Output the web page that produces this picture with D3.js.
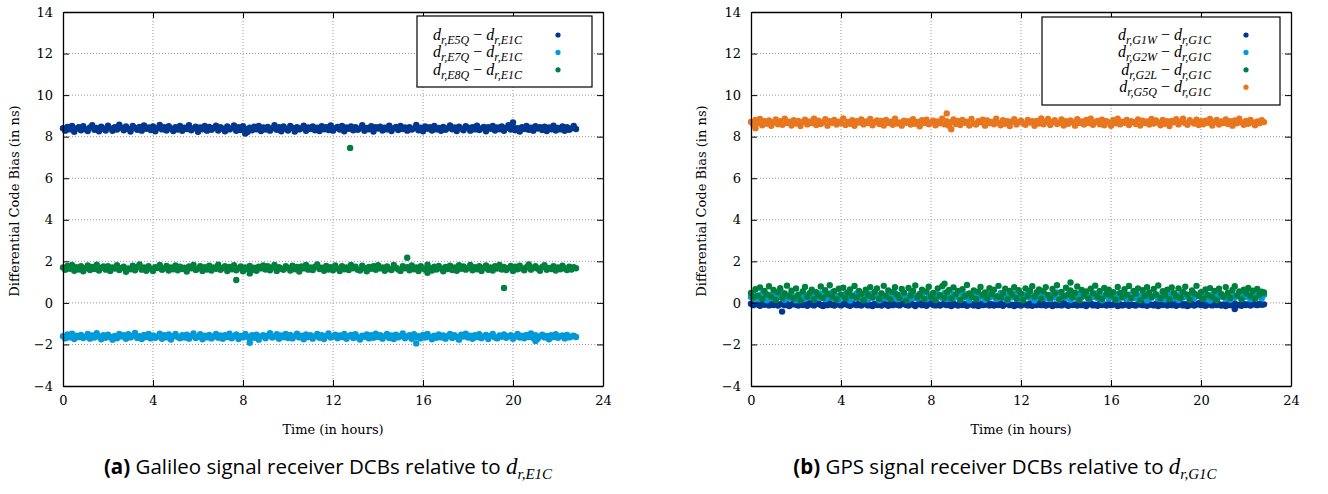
<!DOCTYPE html>
<html>
<head>
<meta charset="utf-8">
<script src="https://cdn.jsdelivr.net/npm/d3@7/dist/d3.min.js"></script>
<style>
  body { margin: 0; background: #fff; }
  svg text { fill: #000; }
</style>
</head>
<body>
<svg id="chart" width="1328" height="494"></svg>
<script>
// sampling grid for the dense series (hours)
const dt = 0.1;

// y ticks / x ticks
const xTicks = [0, 4, 8, 12, 16, 20, 24];
const yTicks = [-4, -2, 0, 2, 4, 6, 8, 10, 12, 14];

// ---- Galileo (panel a) ----
const e5q = [
8.41,8.29,8.47,8.35,8.52,8.24,8.39,8.45,8.31,8.50,
8.36,8.27,8.44,8.55,8.33,8.42,8.26,8.48,8.38,8.30,
8.53,8.40,8.28,8.46,8.34,8.57,8.43,8.31,8.49,8.37,
8.25,8.51,8.42,8.33,8.47,8.29,8.54,8.38,8.44,8.32,
8.49,8.26,8.41,8.56,8.35,8.45,8.30,8.50,8.39,8.27,
8.46,8.34,8.52,8.28,8.43,8.37,8.55,8.31,8.40,8.48,
8.24,8.44,8.36,8.51,8.29,8.47,8.33,8.42,8.53,8.30,
8.45,8.38,8.26,8.49,8.35,8.41,8.54,8.28,8.46,8.32,
8.50,8.37,8.22,8.43,8.31,8.48,8.36,8.52,8.27,8.44,
8.34,8.47,8.29,8.40,8.55,8.33,8.45,8.26,8.49,8.38,
8.30,8.51,8.42,8.25,8.46,8.35,8.41,8.53,8.28,8.44,
8.37,8.49,8.31,8.43,8.27,8.50,8.36,8.45,8.32,8.54,
8.29,8.41,8.47,8.34,8.52,8.26,8.44,8.38,8.49,8.31,
8.46,8.33,8.40,8.55,8.28,8.42,8.36,8.50,8.25,8.45,
8.39,8.48,8.30,8.43,8.35,8.53,8.27,8.41,8.47,8.32,
8.51,8.37,8.44,8.29,8.46,8.34,8.40,8.56,8.31,8.43,
8.26,8.49,8.38,8.45,8.30,8.52,8.35,8.42,8.28,8.47,
8.33,8.41,8.54,8.36,8.44,8.27,8.48,8.39,8.31,8.50,
8.43,8.29,8.46,8.35,8.53,8.32,8.40,8.47,8.26,8.45,
8.38,8.51,8.30,8.44,8.36,8.49,8.28,8.42,8.55,8.34,
8.47,8.31,8.41,8.25,8.46,8.37,8.52,8.33,8.43,8.29,
8.50,8.39,8.45,8.32,8.48,8.27,8.44,8.36,8.53,8.30,
8.42,8.35,8.49,8.28,8.46,8.33,8.40,8.51,8.37];

const e7q = [
-1.60,-1.71,-1.52,-1.66,-1.48,-1.74,-1.58,-1.65,-1.54,-1.69,
-1.63,-1.50,-1.72,-1.57,-1.67,-1.46,-1.61,-1.75,-1.55,-1.68,
-1.53,-1.64,-1.77,-1.59,-1.70,-1.49,-1.62,-1.56,-1.73,-1.51,
-1.66,-1.58,-1.45,-1.69,-1.60,-1.74,-1.54,-1.65,-1.50,-1.71,
-1.57,-1.68,-1.62,-1.48,-1.73,-1.55,-1.66,-1.52,-1.76,-1.61,
-1.49,-1.64,-1.70,-1.56,-1.67,-1.53,-1.72,-1.59,-1.47,-1.69,
-1.63,-1.51,-1.75,-1.58,-1.66,-1.54,-1.71,-1.62,-1.50,-1.68,
-1.57,-1.73,-1.55,-1.65,-1.48,-1.70,-1.60,-1.52,-1.74,-1.59,
-1.66,-1.49,-1.63,-1.72,-1.56,-1.68,-1.53,-1.77,-1.61,-1.55,
-1.70,-1.58,-1.46,-1.67,-1.62,-1.51,-1.73,-1.57,-1.65,-1.50,
-1.69,-1.54,-1.71,-1.60,-1.48,-1.66,-1.58,-1.75,-1.52,-1.64,
-1.56,-1.72,-1.61,-1.50,-1.68,-1.55,-1.74,-1.59,-1.47,-1.67,
-1.62,-1.53,-1.70,-1.57,-1.65,-1.49,-1.73,-1.60,-1.54,-1.69,
-1.51,-1.66,-1.76,-1.58,-1.63,-1.52,-1.71,-1.56,-1.68,-1.48,
-1.64,-1.55,-1.72,-1.61,-1.50,-1.69,-1.57,-1.74,-1.53,-1.66,
-1.59,-1.47,-1.70,-1.62,-1.56,-1.73,-1.51,-1.65,-1.60,-1.71,
-1.54,-1.67,-1.49,-1.63,-1.75,-1.58,-1.68,-1.52,-1.66,-1.57,
-1.72,-1.60,-1.50,-1.69,-1.55,-1.64,-1.77,-1.53,-1.62,-1.48,
-1.67,-1.58,-1.73,-1.56,-1.65,-1.51,-1.70,-1.61,-1.54,-1.74,
-1.59,-1.49,-1.66,-1.71,-1.57,-1.63,-1.52,-1.68,-1.60,-1.55,
-1.73,-1.62,-1.50,-1.67,-1.58,-1.70,-1.54,-1.64,-1.47,-1.69,
-1.56,-1.72,-1.61,-1.53,-1.66,-1.59,-1.75,-1.55,-1.65,-1.51,
-1.68,-1.60,-1.57,-1.71,-1.54,-1.66,-1.62,-1.58,-1.64];

const e8q = [
1.70,1.59,1.78,1.64,1.82,1.55,1.72,1.61,1.76,1.52,
1.67,1.80,1.58,1.73,1.63,1.84,1.56,1.69,1.75,1.60,
1.77,1.54,1.71,1.65,1.81,1.58,1.68,1.74,1.50,1.66,
1.62,1.79,1.57,1.73,1.85,1.60,1.70,1.55,1.76,1.64,
1.53,1.72,1.68,1.83,1.59,1.66,1.78,1.56,1.71,1.62,
1.80,1.57,1.74,1.63,1.69,1.51,1.75,1.67,1.82,1.58,
1.65,1.77,1.54,1.72,1.61,1.79,1.56,1.70,1.64,1.84,
1.59,1.68,1.76,1.53,1.73,1.62,1.81,1.57,1.67,1.75,
1.52,1.71,1.63,1.78,1.58,1.69,1.55,1.74,1.66,1.80,
1.61,1.76,1.57,1.70,1.83,1.54,1.72,1.64,1.59,1.77,
1.68,1.56,1.79,1.62,1.73,1.51,1.75,1.66,1.82,1.60,
1.70,1.58,1.74,1.85,1.63,1.69,1.55,1.78,1.61,1.72,
1.57,1.80,1.65,1.53,1.76,1.62,1.71,1.58,1.83,1.67,
1.74,1.60,1.56,1.79,1.68,1.52,1.73,1.64,1.77,1.59,
1.81,1.66,1.71,1.55,1.75,1.63,1.58,1.82,1.69,1.61,
1.54,1.77,1.67,1.72,1.57,1.80,1.62,1.70,1.53,1.76,
1.65,1.59,1.84,1.68,1.56,1.74,1.61,1.78,1.66,1.52,
1.73,1.63,1.79,1.58,1.70,1.55,1.81,1.64,1.75,1.60,
1.68,1.82,1.57,1.72,1.62,1.77,1.54,1.69,1.80,1.59,
1.71,1.56,1.76,1.65,1.83,1.61,1.73,1.58,1.67,1.78,
1.53,1.74,1.62,1.79,1.66,1.57,1.72,1.85,1.60,1.69,
1.76,1.64,1.55,1.73,1.81,1.59,1.68,1.63,1.77,1.56,
1.70,1.62,1.79,1.66,1.58,1.74,1.61,1.72,1.67];

// isolated points [hour, ns]
const e5qOut = [[20.0, 8.68], [8.1, 8.15]];
const e7qOut = [[8.3, -1.92], [15.7, -1.95], [21.0, -1.84]];
const e8qOut = [[12.76, 7.46], [7.7, 1.1], [15.3, 2.17], [19.6, 0.72], [8.3, 1.42], [16.2, 1.45]];

// ---- GPS (panel b) ----
const g1w = [
-0.04,-0.11,-0.02,-0.08,-0.14,-0.05,-0.09,0.00,-0.12,-0.06,
-0.10,-0.03,-0.13,-0.07,-0.01,-0.11,-0.05,-0.15,-0.08,-0.02,
-0.09,-0.13,-0.04,-0.10,-0.06,-0.14,-0.01,-0.08,-0.12,-0.05,
-0.03,-0.10,-0.15,-0.07,-0.11,-0.02,-0.09,-0.13,-0.04,-0.08,
-0.12,-0.06,0.01,-0.10,-0.14,-0.05,-0.08,-0.11,-0.03,-0.13,
-0.07,-0.01,-0.12,-0.09,-0.15,-0.04,-0.10,-0.06,-0.13,-0.02,
-0.08,-0.14,-0.05,-0.11,-0.03,-0.09,-0.12,-0.06,0.00,-0.10,
-0.13,-0.04,-0.08,-0.15,-0.07,-0.02,-0.11,-0.09,-0.14,-0.05,
-0.01,-0.10,-0.12,-0.06,-0.13,-0.08,-0.03,-0.11,-0.07,-0.15,
-0.04,-0.09,-0.13,-0.02,-0.10,-0.06,-0.14,-0.08,-0.05,-0.12,
-0.07,-0.15,-0.03,-0.11,-0.09,-0.01,-0.12,-0.06,-0.13,-0.08,
-0.10,-0.04,-0.14,-0.07,-0.02,-0.11,-0.09,-0.15,-0.05,-0.10,
-0.13,-0.06,-0.08,-0.12,-0.03,-0.14,-0.07,-0.10,-0.01,-0.11,
-0.05,-0.13,-0.09,-0.04,-0.15,-0.08,-0.11,-0.06,-0.12,-0.02,
-0.09,-0.14,-0.05,-0.10,-0.07,-0.13,-0.03,-0.11,-0.08,-0.15,
-0.06,-0.01,-0.12,-0.09,-0.14,-0.04,-0.10,-0.07,-0.13,-0.05,
-0.11,-0.08,-0.02,-0.15,-0.06,-0.12,-0.09,-0.03,-0.14,-0.07,
-0.10,-0.13,-0.05,-0.08,-0.11,-0.01,-0.14,-0.06,-0.09,-0.12,
-0.04,-0.15,-0.07,-0.10,-0.02,-0.13,-0.08,-0.11,-0.05,-0.14,
-0.09,-0.03,-0.12,-0.06,-0.15,-0.10,-0.04,-0.13,-0.08,-0.01,
-0.11,-0.07,-0.14,-0.05,-0.09,-0.12,-0.02,-0.10,-0.06,-0.13,
-0.08,-0.15,-0.04,-0.11,-0.07,-0.03,-0.12,-0.09,-0.14,-0.05,
-0.10,-0.06,-0.13,-0.02,-0.08,-0.11,-0.04,-0.09,-0.07];

const g2w = [
0.28,0.41,0.17,0.35,0.22,0.46,0.31,0.13,0.38,0.25,
0.44,0.19,0.33,0.27,0.49,0.15,0.36,0.23,0.42,0.30,
0.12,0.39,0.26,0.47,0.20,0.34,0.29,0.43,0.16,0.37,
0.24,0.45,0.32,0.18,0.40,0.27,0.50,0.21,0.35,0.14,
0.38,0.26,0.43,0.31,0.11,0.36,0.23,0.47,0.29,0.19,
0.41,0.33,0.16,0.44,0.25,0.39,0.30,0.13,0.46,0.22,
0.35,0.20,0.42,0.28,0.48,0.17,0.37,0.26,0.40,0.32,
0.15,0.45,0.24,0.34,0.21,0.43,0.29,0.51,0.18,0.36,
0.27,0.39,0.14,0.41,0.31,0.23,0.47,0.19,0.33,0.44,
0.22,0.30,0.49,0.16,0.38,0.26,0.42,0.12,0.35,0.28,
0.46,0.20,0.37,0.31,0.15,0.43,0.25,0.40,0.29,0.18,
0.34,0.48,0.23,0.36,0.13,0.41,0.27,0.45,0.21,0.32,
0.17,0.39,0.30,0.47,0.24,0.35,0.11,0.42,0.28,0.37,
0.44,0.22,0.33,0.19,0.40,0.26,0.50,0.16,0.36,0.29,
0.25,0.43,0.14,0.38,0.31,0.20,0.46,0.27,0.34,0.41,
0.18,0.35,0.28,0.45,0.23,0.39,0.13,0.32,0.48,0.21,
0.37,0.26,0.42,0.15,0.34,0.29,0.44,0.19,0.40,0.30,
0.24,0.47,0.17,0.36,0.27,0.43,0.12,0.38,0.25,0.33,
0.41,0.20,0.31,0.49,0.16,0.35,0.28,0.45,0.22,0.37,
0.14,0.39,0.26,0.42,0.30,0.18,0.46,0.24,0.34,0.40,
0.27,0.44,0.19,0.36,0.11,0.38,0.32,0.23,0.47,0.29,
0.35,0.21,0.43,0.15,0.40,0.26,0.33,0.48,0.20,0.37,
0.28,0.42,0.17,0.34,0.25,0.45,0.30,0.22,0.39];

const g2l = [
0.48,0.27,0.66,0.35,0.74,0.19,0.57,0.41,0.80,0.30,
0.62,0.14,0.51,0.71,0.25,0.45,0.83,0.33,0.59,0.22,
0.69,0.38,0.12,0.55,0.77,0.29,0.47,0.64,0.18,0.52,
0.36,0.79,0.24,0.61,0.43,0.85,0.31,0.56,0.16,0.68,
0.40,0.73,0.21,0.50,0.65,0.34,0.81,0.26,0.58,0.44,
0.13,0.63,0.37,0.76,0.28,0.54,0.70,0.20,0.46,0.82,
0.32,0.60,0.17,0.53,0.75,0.39,0.23,0.67,0.49,0.11,
0.72,0.35,0.57,0.84,0.27,0.42,0.64,0.19,0.55,0.78,
0.30,0.48,0.15,0.69,0.37,0.80,0.25,0.52,0.62,0.21,
0.74,0.41,0.58,0.14,0.66,0.33,0.86,0.46,0.28,0.60,
0.18,0.54,0.77,0.36,0.50,0.23,0.71,0.43,0.63,0.31,
0.82,0.26,0.47,0.68,0.16,0.57,0.39,0.75,0.22,0.61,
0.44,0.13,0.70,0.34,0.59,0.80,0.29,0.51,0.65,0.20,
0.56,0.76,0.38,0.24,0.67,0.45,0.85,0.17,0.53,0.32,
0.73,0.40,0.60,0.27,0.49,0.79,0.14,0.62,0.36,0.55,
0.21,0.68,0.46,0.83,0.30,0.57,0.19,0.72,0.42,0.64,
0.35,0.52,0.15,0.77,0.48,0.26,0.66,0.39,0.81,0.23,
0.58,0.44,0.70,0.12,0.61,0.33,0.75,0.50,0.28,0.67,
0.41,0.84,0.22,0.56,0.37,0.63,0.18,0.74,0.47,0.31,
0.69,0.25,0.53,0.78,0.40,0.15,0.60,0.45,0.82,0.34,
0.52,0.20,0.65,0.38,0.71,0.27,0.57,0.13,0.68,0.43,
0.30,0.76,0.49,0.24,0.62,0.80,0.36,0.55,0.17,0.64,
0.46,0.72,0.33,0.59,0.21,0.67,0.39,0.54,0.50];

const g5q = [
8.71,8.58,8.80,8.64,8.85,8.55,8.74,8.62,8.78,8.52,
8.68,8.83,8.60,8.75,8.57,8.87,8.66,8.72,8.54,8.79,
8.63,8.76,8.51,8.70,8.82,8.59,8.73,8.65,8.86,8.56,
8.77,8.61,8.69,8.84,8.53,8.74,8.67,8.80,8.58,8.72,
8.64,8.88,8.56,8.71,8.62,8.79,8.52,8.75,8.68,8.83,
8.59,8.73,8.66,8.85,8.55,8.70,8.78,8.61,8.76,8.54,
8.81,8.65,8.72,8.57,8.86,8.63,8.69,8.53,8.77,8.67,
8.74,8.58,8.84,8.62,8.71,8.50,8.79,8.66,8.82,8.60,
8.68,8.77,8.55,8.73,8.64,8.87,8.59,8.75,8.52,8.70,
8.83,8.61,8.76,8.56,8.80,8.67,8.72,8.54,8.85,8.63,
8.58,8.74,8.69,8.82,8.53,8.78,8.65,8.71,8.60,8.86,
8.66,8.55,8.79,8.62,8.75,8.51,8.73,8.84,8.59,8.70,
8.77,8.64,8.57,8.81,8.68,8.74,8.52,8.76,8.63,8.88,
8.60,8.72,8.85,8.56,8.70,8.79,8.61,8.67,8.83,8.54,
8.75,8.62,8.78,8.69,8.53,8.84,8.66,8.73,8.58,8.80,
8.65,8.87,8.57,8.71,8.76,8.60,8.82,8.55,8.74,8.68,
8.52,8.79,8.64,8.86,8.59,8.72,8.67,8.81,8.56,8.75,
8.70,8.61,8.83,8.54,8.77,8.66,8.73,8.58,8.85,8.63,
8.78,8.68,8.55,8.80,8.62,8.74,8.51,8.76,8.69,8.84,
8.59,8.72,8.87,8.65,8.57,8.79,8.70,8.63,8.82,8.56,
8.74,8.60,8.77,8.67,8.85,8.54,8.71,8.80,8.58,8.73,
8.66,8.83,8.61,8.75,8.53,8.78,8.64,8.86,8.69,8.57,
8.76,8.62,8.81,8.68,8.55,8.73,8.65,8.79,8.70];

const g1wOut = [[1.38, -0.42], [21.5, -0.3]];
const g2wOut = [];
const g2lOut = [[14.2, 0.98], [8.6, 0.92]];
const g5qOut = [[8.7, 9.12], [0.2, 8.4], [8.9, 8.36]];

const blue = "#00378f", cyan = "#009ad9", green = "#00803e", orange = "#e8761e";

// panel definitions
const panels = [
  { left: 63, caption: "Galileo", capX: 328, ref: "E1C", titleX: 19,
    legend: { x0: 417, x1: 592, y0: 16, y1: 87, rowY: 35, textX: 522, dotX: 558 },
    series: [
      { sig: "E5Q", vals: e5q, out: e5qOut, color: blue },
      { sig: "E7Q", vals: e7q, out: e7qOut, color: cyan },
      { sig: "E8Q", vals: e8q, out: e8qOut, color: green } ] },
  { left: 751, caption: "GPS", capX: 1005, ref: "G1C", titleX: 706,
    legend: { x0: 1042, x1: 1280, y0: 17, y1: 105, rowY: 35, textX: 1211, dotX: 1246 },
    series: [
      { sig: "G1W", vals: g1w, out: g1wOut, color: blue },
      { sig: "G2W", vals: g2w, out: g2wOut, color: cyan },
      { sig: "G2L", vals: g2l, out: g2lOut, color: green },
      { sig: "G5Q", vals: g5q, out: g5qOut, color: orange } ] }
];

const svg = d3.select("#chart");
const plotTop = 12, plotH = 374, plotW = 540;
const serif = "'DejaVu Serif', serif";
const mathFont = "'Liberation Serif', 'Times New Roman', serif";
const sans = "'Open Sans', 'Noto Sans', sans-serif";

// math label d_{r,X} − d_{r,REF}
function mathLabel(sel, a, b, size) {
  const t = sel.style("font-family", mathFont).style("font-size", size + "px");
  const sub = Math.round(size * 0.72);
  t.append("tspan").style("font-style", "italic").text("d");
  t.append("tspan").style("font-style", "italic").style("font-size", sub + "px")
    .attr("dy", size * 0.25).text("r," + a);
  t.append("tspan").attr("dy", -size * 0.25).text(" \u2212 ");
  t.append("tspan").style("font-style", "italic").text("d");
  t.append("tspan").style("font-style", "italic").style("font-size", sub + "px")
    .attr("dy", size * 0.25).text("r," + b);
  return t;
}

panels.forEach((p, pi) => {
  const x = d3.scaleLinear().domain([0, 24]).range([p.left, p.left + plotW]);
  const y = d3.scaleLinear().domain([-4, 14]).range([plotTop + plotH, plotTop]);
  const g = svg.append("g");

  // grid
  g.append("g").selectAll("line").data(xTicks.slice(1, -1)).enter().append("line")
    .attr("x1", d => x(d)).attr("x2", d => x(d)).attr("y1", plotTop).attr("y2", plotTop + plotH)
    .attr("stroke", "#999").attr("stroke-width", 1).attr("stroke-dasharray", "1,2");
  g.append("g").selectAll("line").data(yTicks.slice(1, -1)).enter().append("line")
    .attr("x1", p.left).attr("x2", p.left + plotW).attr("y1", d => y(d)).attr("y2", d => y(d))
    .attr("stroke", "#999").attr("stroke-width", 1).attr("stroke-dasharray", "1,2");

  // data points
  p.series.forEach(s => {
    const pts = s.vals.map((v, i) => [i * dt, v]).concat(s.out);
    g.append("g").selectAll("circle").data(pts).enter().append("circle")
      .attr("cx", d => x(d[0])).attr("cy", d => y(d[1])).attr("r", 3.2)
      .attr("fill", s.color);
  });

  // axes, ticks inward and mirrored
  const axB = d3.axisBottom(x).tickValues(xTicks).tickSizeInner(-6).tickSizeOuter(0).tickPadding(10);
  const axL = d3.axisLeft(y).tickValues(yTicks).tickSizeInner(-6).tickSizeOuter(0).tickPadding(10)
    .tickFormat(d => d < 0 ? "\u2212" + Math.abs(d) : d);
  const axT = d3.axisTop(x).tickValues(xTicks).tickSizeInner(-6).tickSizeOuter(0).tickFormat("");
  const axR = d3.axisRight(y).tickValues(yTicks).tickSizeInner(-6).tickSizeOuter(0).tickFormat("");
  [[axB, `translate(0,${plotTop + plotH})`], [axL, `translate(${p.left},0)`],
   [axT, `translate(0,${plotTop})`], [axR, `translate(${p.left + plotW},0)`]].forEach(a => {
    const ag = g.append("g").attr("transform", a[1]).call(a[0]);
    ag.select(".domain").attr("stroke", "#000").attr("stroke-width", 1.3);
    ag.selectAll(".tick line").attr("stroke", "#000");
    ag.selectAll("text").style("font-family", serif).style("font-size", "13px").attr("fill", "#000");
  });

  // axis titles
  g.append("text").attr("x", p.left + 270).attr("y", 434).attr("text-anchor", "middle")
    .style("font-family", serif).style("font-size", "13px").text("Time (in hours)");
  g.append("text").attr("transform", `translate(${p.titleX},${plotTop + 189}) rotate(-90)`)
    .attr("text-anchor", "middle").style("font-family", serif).style("font-size", "13px")
    .text("Differential Code Bias (in ns)");

  // legend
  const L = p.legend, rowH = 17.4;
  g.append("rect").attr("x", L.x0).attr("y", L.y0).attr("width", L.x1 - L.x0)
    .attr("height", L.y1 - L.y0)
    .attr("fill", "#fff").attr("stroke", "#000").attr("stroke-width", 1.2);
  p.series.forEach((s, i) => {
    const yy = L.rowY + i * rowH;
    mathLabel(g.append("text").attr("x", L.textX).attr("y", yy + 5).attr("text-anchor", "end"),
      s.sig, p.ref, 16);
    g.append("circle").attr("cx", L.dotX).attr("cy", yy).attr("r", 2.6).attr("fill", s.color);
  });

  // caption
  const cap = g.append("text").attr("x", p.capX).attr("y", 474).attr("text-anchor", "middle")
    .style("font-family", sans).style("font-size", "20.5px");
  cap.append("tspan").style("font-weight", "bold").text(pi === 0 ? "(a)" : "(b)");
  cap.append("tspan").text(" " + p.caption + " signal receiver DCBs relative to ");
  cap.append("tspan").style("font-family", mathFont).style("font-style", "italic").style("font-size", "23px").text("d");
  cap.append("tspan").style("font-family", mathFont).style("font-style", "italic").style("font-size", "15px")
    .attr("dy", 5).text("r," + p.ref);
});
</script>
</body>
</html>
